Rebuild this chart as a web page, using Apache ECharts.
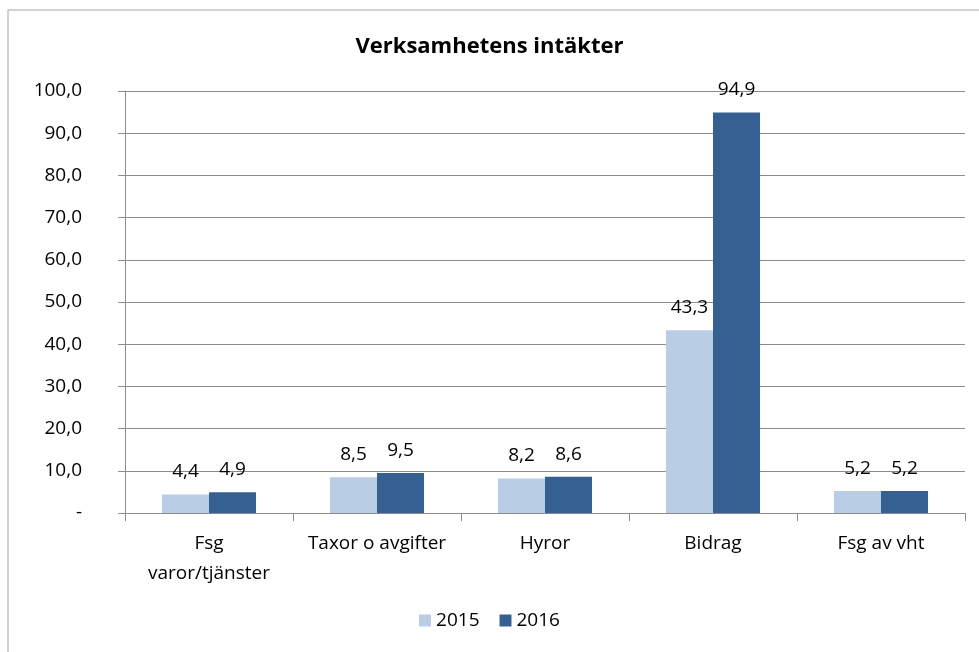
<!DOCTYPE html>
<html>
<head>
<meta charset="utf-8">
<script src="https://cdn.jsdelivr.net/npm/echarts@6/dist/echarts.min.js"></script>
<style>
  html, body { margin: 0; padding: 0; background: #fff; }
  #chart { width: 979px; height: 652px; }
</style>
</head>
<body>
<div id="chart"></div>
<script>
const categories = ["Fsg\nvaror/tjänster", "Taxor o avgifter", "Hyror", "Bidrag", "Fsg av vht"];
const values2015 = [4.4, 8.5, 8.2, 43.3, 5.2];
const values2016 = [4.9, 9.5, 8.6, 94.9, 5.2];
const seriesNames = ["2015", "2016"];

const font = "'Open Sans', 'Noto Sans', sans-serif";
const fmt = (v) => (v === 0 ? "-" : v.toFixed(1).replace(".", ","));

const chart = echarts.init(document.getElementById("chart"));
chart.setOption({
  animation: false,
  textStyle: { fontFamily: font },
  title: {
    text: "Verksamhetens intäkter",
    left: "center",
    top: 31,
    textStyle: { fontSize: 22, fontWeight: "bold", color: "#000", fontFamily: font },
  },
  graphic: [
    {
      type: "rect",
      shape: { x: 8, y: 10, width: 1000, height: 700 },
      style: { fill: "none", stroke: "#a6a6a6", lineWidth: 1 },
      silent: true,
    },
  ],
  grid: { left: 125, right: 14, top: 91, bottom: 139 },
  legend: {
    bottom: 17,
    left: "center",
    itemWidth: 12,
    itemHeight: 12,
    itemGap: 20,
    icon: "rect",
    textStyle: { fontSize: 19, color: "#000", fontFamily: font },
    data: seriesNames,
  },
  xAxis: {
    type: "category",
    data: categories,
    axisLine: { lineStyle: { color: "#8c8c8c" } },
    axisTick: { show: true, length: 8, lineStyle: { color: "#8c8c8c" } },
    axisLabel: { interval: 0, margin: 16, fontSize: 19, color: "#000", lineHeight: 30, fontFamily: font },
  },
  yAxis: {
    type: "value",
    min: 0,
    max: 100,
    interval: 10,
    axisLine: { show: true, lineStyle: { color: "#8c8c8c" } },
    axisTick: { show: true, length: 7, lineStyle: { color: "#8c8c8c" } },
    axisLabel: { margin: 43, fontSize: 19, color: "#000", formatter: fmt, fontFamily: font },
    splitLine: { lineStyle: { color: "#8c8c8c" } },
  },
  series: [
    {
      name: seriesNames[0],
      type: "bar",
      data: values2015,
      barGap: "0%",
      barCategoryGap: "44%",
      itemStyle: { color: "#b9cde5" },
      label: { show: true, position: "top", distance: 13, fontSize: 19, color: "#000", formatter: (p) => fmt(p.value), fontFamily: font },
    },
    {
      name: seriesNames[1],
      type: "bar",
      data: values2016,
      barGap: "0%",
      barCategoryGap: "44%",
      itemStyle: { color: "#376092" },
      label: { show: true, position: "top", distance: 13, fontSize: 19, color: "#000", formatter: (p) => fmt(p.value), fontFamily: font },
    },
  ],
});
</script>
</body>
</html>
